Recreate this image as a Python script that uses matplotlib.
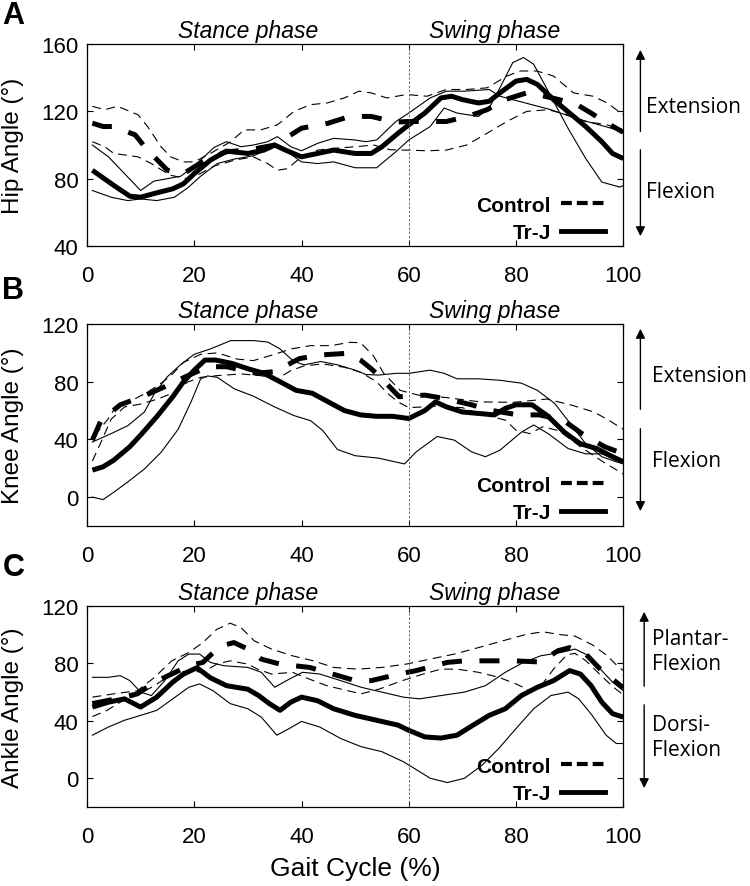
import numpy as np
import matplotlib
matplotlib.use('Agg')
import matplotlib.pyplot as plt
from matplotlib.lines import Line2D

plt.rcParams['font.family'] = 'Liberation Sans'

# ---------------- A: hip ----------------
hip_trj_x = [1, 5, 8, 10, 13, 16, 18, 20, 23, 26, 30, 33, 35, 37, 40, 43, 46, 50, 53, 55, 58, 60, 63, 66, 68, 70,
             73, 75, 77, 80, 82, 84, 87, 90, 93, 96, 98, 100]
hip_trj = [85, 76, 69.6, 69, 71.6, 74, 77, 83, 91, 96.4, 95, 97, 100, 97, 93, 95, 97, 95, 95, 99, 107, 112, 119, 128,
           129, 127, 125, 126, 131, 138, 139, 136, 127, 119, 111, 102, 95, 92]
hip_trj_up_x = [1, 4, 7, 10, 12.5, 15, 17.5, 20, 23.7, 26, 28.7, 31, 33.7, 35.5, 38, 40, 43, 46, 50, 52, 54, 57.6, 60,
                64, 67, 70.4, 75, 77, 86.5, 91, 100]
hip_trj_up = [100, 93, 83, 73, 78.6, 80, 81.5, 87.5, 98.6, 102, 99, 100, 102, 105, 99, 96.6, 101, 104, 103, 102, 103,
              114, 119, 128, 132, 132, 133, 129, 121, 116, 108]
hip_trj_lo_x = [1, 4.5, 7.6, 10, 13, 16.3, 18.8, 21.2, 24.3, 27.5, 31, 33.7, 35.5, 38, 40, 43, 46, 50, 54, 57.6, 60, 64,
                66.6, 69, 73, 75, 77, 79.4, 81.4, 83.3, 86, 89.7, 93, 96, 99.4, 100]
hip_trj_lo = [73, 69, 67, 68, 67, 69, 74.6, 81.5, 89, 91.7, 93.6, 97.3, 100, 94.5, 90, 89, 90, 86.5, 86.5, 96, 103, 111,
              122, 119, 117, 122, 134, 149, 152, 148, 132, 110, 92, 78, 75, 76]
hip_ctl_x = [1, 3, 5, 9, 11, 15, 18, 22, 26, 30, 35, 40, 45, 49, 53, 57.5, 60, 64, 67, 71, 74.6, 78, 82, 84, 88, 91.4,
             94, 97, 100]
hip_ctl = [113, 111, 111, 106, 98, 85, 83, 91, 96, 97, 100, 110, 113, 117, 117, 113.6, 114, 114, 114, 117, 121, 127,
           131, 130, 127, 124, 119, 113, 107.6]
hip_ctl_up_x = [1, 3.3, 5.7, 9.5, 11.3, 13.8, 15.6, 18, 20, 23, 26.8, 29.3, 32.4, 35.5, 38.6, 41.7, 44.8, 48, 50.7, 53,
                55.9, 59.6, 63.4, 67, 70.8, 74.6, 78.3, 80.8, 83.9, 87, 90.7, 94.4, 97, 100]
hip_ctl_up = [123, 121, 123, 118, 111, 99, 93, 90, 90, 95, 102, 109, 109, 112, 120, 124, 125, 128, 132, 131, 128, 130,
              129, 133, 133, 134, 141, 144, 144, 141, 131, 129, 125, 118]
hip_ctl_lo_x = [1, 3.3, 5, 9.5, 12, 14, 15.6, 18.8, 21, 23.7, 27.5, 31, 33.7, 35.5, 37.4, 40, 43, 46, 50, 53.5, 56.5,
                59.6, 63.4, 67, 70.8, 74.6, 78.3, 82, 86, 89.6, 93, 97, 100]
hip_ctl_lo = [102, 99, 95, 93, 89, 85, 82, 80, 82.8, 87.5, 91, 93, 89, 85, 86, 93, 97, 98, 99, 100, 97.2, 97, 96.6, 97,
              100, 107, 114, 120, 121, 118, 114, 112, 109]

# ---------------- B: knee ----------------
knee_trj_x = [1, 3, 5, 8, 10, 13, 16, 18, 20, 22, 24, 27, 30, 33, 36, 39, 42, 45, 48, 51, 54, 57, 60, 63, 65, 67, 70,
              73, 76, 78, 80, 83, 86, 89, 92, 95, 98, 100]
knee_trj = [18.7, 21, 25.6, 35, 43, 55.7, 69.6, 80, 88, 95, 95, 92.7, 89, 85.8, 80, 74, 72, 66, 60, 57, 56, 56, 54.5,
            60, 66, 62.6, 59, 58, 57, 61.5, 64, 64, 56, 45, 37, 33.7, 28, 24.5]
knee_trj_up_x = [1, 4.5, 7.6, 10.7, 12.6, 15, 17.5, 20, 23, 26.8, 31, 33.7, 36, 38.6, 40.5, 43.6, 46.7, 50, 52, 54.4,
                 57.6, 60, 64, 66.6, 69, 73, 77, 81, 84, 87.2, 89.7, 93, 96, 98.7, 100]
knee_trj_up = [38.2, 44, 49.5, 59, 72, 83.5, 92, 99, 102.7, 108.5, 108.5, 107.5, 102.7, 94, 91.7, 94, 91.7, 88, 85,
               84.6, 85.8, 85.8, 88, 85.8, 82, 82, 81, 79, 74, 65, 53, 37, 28, 24.5, 23]
knee_trj_lo_x = [1, 3, 5, 7.6, 10.7, 13.8, 17, 19.4, 21.2, 22.5, 24.3, 27.5, 31, 35, 38.6, 41.7, 44, 46.7, 50, 54.4,
                 59.2, 61.4, 65.3, 68.5, 71.7, 74.3, 77, 81, 83.3, 86, 89.7, 93, 96, 98.7, 100]
knee_trj_lo = [0, -1.7, 3.4, 10.5, 19.5, 31, 47, 66, 82, 84, 83, 75, 70, 62.5, 56.5, 53, 46, 33, 28.7, 27, 23, 31.4,
               42, 39.5, 31.4, 28, 32.5, 45, 50, 44, 33.7, 30, 30, 25.6, 24.5]
knee_ctl_x = [1, 2.6, 6.2, 10.3, 14.5, 18.4, 22.6, 26, 31.6, 35, 39.6, 43.4, 48.6, 51, 53, 55, 58.2, 63, 66.6, 71.7,
              75.6, 80.4, 84.3, 88.8, 92.3, 96.5, 100]
knee_ctl = [39.5, 53, 64, 69.6, 76.5, 83.5, 90.4, 90.4, 85.8, 87, 96, 98.5, 99.7, 95, 89, 82, 69.6, 70.7, 68.4, 64,
            60, 57, 57, 53.4, 44, 35, 30]
knee_ctl_up_x = [1.4, 3.9, 5.7, 8.2, 10.7, 13.2, 15.6, 18, 21.2, 24.3, 28, 31, 35, 38, 41.7, 45.5, 49, 51, 53.4, 55.3,
                 58.4, 62, 67, 73.3, 79.5, 85.8, 90.7, 94.5, 97, 100]
knee_ctl_up = [42.6, 54, 64.5, 66.8, 71.5, 77.3, 84, 93.4, 99, 100, 95.7, 94.6, 99, 102.7, 105, 105, 107.3, 107, 98,
               86, 74, 70.5, 69, 66, 65.7, 68, 63.4, 59, 54, 47]
knee_ctl_lo_x = [1, 2.6, 4.5, 7, 10, 13.2, 16.3, 18.8, 21.2, 24.3, 28.7, 32.4, 35.5, 38, 40.5, 44, 48, 51, 54, 56, 58,
                 60, 65, 70, 73, 78, 80, 82.6, 85, 88, 92, 96, 100]
knee_ctl_lo = [25, 38, 54, 62.5, 64.5, 68, 72.6, 79.8, 83, 84.2, 85.4, 84.2, 82, 87.7, 91, 92.3, 90, 86.6, 80, 72, 66,
               62, 63, 62, 58, 53.4, 46.4, 44, 48.8, 46, 35, 25, 16]

# ---------------- C: ankle ----------------
ank_trj_x = [1, 4, 7, 10, 13, 16, 18, 20.5, 23, 26, 30, 32, 34, 36, 38, 40, 43, 46, 50, 54, 58, 60, 63, 66, 69, 72, 75,
             78, 81, 84, 87, 90, 92, 94, 96, 98, 100]
ank_trj = [49.6, 53, 55.3, 49.6, 56.5, 67, 72.6, 77, 70, 64.5, 62, 57.6, 52, 47.3, 53, 56.5, 54, 48.4, 43.8, 40.4, 37,
           33.4, 28.8, 28, 30, 37, 43.8, 48.4, 57.6, 63.4, 68, 75, 72.6, 64.5, 53, 45, 42.6]
ank_trj_up_x = [1, 4, 6.2, 8, 10, 12, 14.5, 17, 19, 21, 23, 25.5, 30, 32.5, 35, 37.7, 40.2, 43.4, 47.3, 51.1, 55, 59,
                62, 66, 70.4, 74.3, 78, 81.4, 84.6, 88.4, 91, 93.6, 96, 98, 100]
ank_trj_up = [70.3, 70.3, 71.5, 68, 60, 57.6, 68, 81.8, 86.5, 86.5, 80.7, 78.4, 77.2, 73.8, 63.4, 69, 73.8, 72.6, 68,
              63.4, 60, 56.5, 55.3, 57.6, 60, 64.5, 73.8, 80.7, 85.3, 87.6, 90, 85.3, 75, 67, 61]
ank_trj_lo_x = [1, 4, 7, 10, 13, 16, 19, 21, 23.5, 26.7, 30, 32.5, 35.4, 37.7, 40, 43.4, 47.3, 51.1, 55, 59, 61.5, 64,
                67.2, 70.4, 73.7, 76.8, 80, 83.3, 86.5, 89.7, 91.7, 94.2, 96.8, 98.7, 100]
ank_trj_lo = [30, 35.7, 40.4, 43.8, 47.3, 55.3, 63.4, 65.7, 61, 52, 48.4, 42.6, 30, 34.6, 39.6, 35.7, 27.7, 22, 18.5,
              11.5, 5.8, 0, -3, 0, 9.2, 20.8, 34.6, 48.4, 57.6, 60, 55.3, 43.8, 30, 24.2, 24.2]
ank_ctl_x = [1, 5, 9.4, 12.6, 15.8, 19, 21.6, 24.8, 27.4, 30, 32.5, 36, 41.5, 44.7, 50, 53, 58.2, 61.4, 67.2, 70.4, 76,
             79.4, 84.6, 87.8, 90, 93, 95.7, 100]
ank_ctl = [52, 55, 58.8, 67, 72.6, 78.4, 80.7, 92, 94.5, 90, 83, 79.5, 77.2, 73.8, 68, 68, 72.6, 75, 80.7, 81.8, 81.8,
           81.8, 81, 88.8, 91, 86.6, 76, 63]
ank_ctl_up_x = [1, 5, 9.4, 12.6, 15.8, 19, 21.6, 24.2, 26.7, 28.7, 31.2, 34.4, 38.3, 42.2, 46, 50.5, 55, 59.5, 64,
                68.5, 73, 77.5, 82, 85, 88.4, 91, 94.2, 96.8, 98.7, 100]
ank_ctl_up = [56.5, 58.8, 61, 70.3, 81.8, 87.6, 94.5, 103.7, 108, 105, 95.7, 90, 85.3, 81.8, 77.2, 76, 77.2, 79.5, 83,
              86.5, 91, 95.7, 100.3, 102, 100, 99, 93, 86, 79, 75]
ank_ctl_lo_x = [1, 3.6, 6.2, 9.4, 12.6, 15.8, 19, 21.6, 24.2, 26.7, 30, 31.8, 34.4, 38.3, 41.5, 44.7, 48.6, 51.1, 54.4,
                58.8, 62.7, 66, 69, 73, 76.8, 80, 82.6, 85, 87, 89.5, 91, 93, 96, 98, 100]
ank_ctl_lo = [43, 47, 53, 58, 64.5, 72.6, 75, 73.8, 79.5, 81.8, 79.5, 76, 72.6, 73.8, 69, 64.5, 61, 58.8, 62, 68, 72.6,
              76, 76, 73.8, 70.3, 65.7, 61, 66, 76, 86, 87, 82, 71, 64, 58]

fig = plt.figure(figsize=(7.5, 8.87), dpi=100)

panels = [
    dict(pos=[0.116, 0.7215, 0.715, 0.2277], ylim=(40, 160), yticks=[40, 80, 120, 160], ylabel='Hip Angle (°)',
         letter='A', ly=0.982,
         trj=(hip_trj_x, hip_trj), trj_up=(hip_trj_up_x, hip_trj_up), trj_lo=(hip_trj_lo_x, hip_trj_lo),
         ctl=(hip_ctl_x, hip_ctl), ctl_up=(hip_ctl_up_x, hip_ctl_up), ctl_lo=(hip_ctl_lo_x, hip_ctl_lo),
         ax_x=1.032, up=(0.554, 0.985), down=(0.49, 0.035), tx=1.043, t_up=(0.693, 'Extension'),
         t_down=(0.272, 'Flexion')),
    dict(pos=[0.116, 0.4059, 0.715, 0.2277], ylim=(-20, 120), yticks=[0, 40, 80, 120], ylabel='Knee Angle (°)',
         letter='B', ly=0.672,
         trj=(knee_trj_x, knee_trj), trj_up=(knee_trj_up_x, knee_trj_up), trj_lo=(knee_trj_lo_x, knee_trj_lo),
         ctl=(knee_ctl_x, knee_ctl), ctl_up=(knee_ctl_up_x, knee_ctl_up), ctl_lo=(knee_ctl_lo_x, knee_ctl_lo),
         ax_x=1.032, up=(0.564, 0.99), down=(0.495, 0.06), tx=1.054, t_up=(0.743, 'Extension'),
         t_down=(0.322, 'Flexion')),
    dict(pos=[0.116, 0.0891, 0.715, 0.2266], ylim=(-20, 120), yticks=[0, 40, 80, 120], ylabel='Ankle Angle (°)',
         letter='C', ly=0.36,
         trj=(ank_trj_x, ank_trj), trj_up=(ank_trj_up_x, ank_trj_up), trj_lo=(ank_trj_lo_x, ank_trj_lo),
         ctl=(ank_ctl_x, ank_ctl), ctl_up=(ank_ctl_up_x, ank_ctl_up), ctl_lo=(ank_ctl_lo_x, ank_ctl_lo),
         ax_x=1.039, up=(0.587, 0.985), down=(0.522, 0.08), tx=1.054, t_up=(0.776, 'Plantar-\nFlexion'),
         t_down=(0.348, 'Dorsi-\nFlexion')),
]

side_font = ['Open Sans', 'DejaVu Sans']

for i, p in enumerate(panels):
    ax = fig.add_axes(p['pos'])

    # thin SD lines
    ax.plot(*p['ctl_up'], color='black', lw=0.8, dashes=(8, 5))
    ax.plot(*p['ctl_lo'], color='black', lw=0.8, dashes=(8, 5))
    ax.plot(*p['trj_up'], color='black', lw=0.8)
    ax.plot(*p['trj_lo'], color='black', lw=0.8)
    # means
    ax.plot(*p['trj'], color='black', lw=3.6, solid_capstyle='butt')
    ax.plot(*p['ctl'], color='black', lw=3.6, dashes=(4, 3.5))

    ax.axvline(60, color='#555555', lw=0.6, dashes=(3, 2))

    ax.set_xlim(0, 100)
    ax.set_ylim(*p['ylim'])
    ax.set_xticks([0, 20, 40, 60, 80, 100])
    ax.set_yticks(p['yticks'])
    ax.tick_params(direction='in', top=True, right=True, length=4, width=0.8, labelsize=16)
    ax.tick_params(axis='x', pad=14)
    ax.tick_params(axis='y', pad=6)
    for s in ax.spines.values():
        s.set_linewidth(0.9)

    ax.set_ylabel(p['ylabel'], fontsize=17.5)
    ax.yaxis.set_label_coords(-0.118, 0.5)

    ax.text(30, 1.065, 'Stance phase', transform=ax.get_xaxis_transform(), ha='center', va='center',
            fontsize=16.5, style='italic')
    ax.text(76, 1.065, 'Swing phase', transform=ax.get_xaxis_transform(), ha='center', va='center',
            fontsize=16.5, style='italic')

    handles = [Line2D([], [], color='black', lw=3, dashes=(2.6, 1.2)),
               Line2D([], [], color='black', lw=3.5)]
    ax.legend(handles, ['Control', 'Tr-J'], markerfirst=False, frameon=False, loc='lower right',
              bbox_to_anchor=(0.966, 0.02), borderaxespad=0, borderpad=0, handlelength=2.1,
              handletextpad=0.5, labelspacing=0.4, prop={'weight': 'bold', 'size': 15})

    # direction arrows on the right
    ax.annotate('', xy=(p['ax_x'], p['up'][1]), xytext=(p['ax_x'], p['up'][0]), xycoords='axes fraction',
                arrowprops=dict(arrowstyle='-|>', color='black', lw=1, mutation_scale=14), annotation_clip=False)
    ax.annotate('', xy=(p['ax_x'], p['down'][1]), xytext=(p['ax_x'], p['down'][0]), xycoords='axes fraction',
                arrowprops=dict(arrowstyle='-|>', color='black', lw=1, mutation_scale=14), annotation_clip=False)
    ax.text(p['tx'], p['t_up'][0], p['t_up'][1], transform=ax.transAxes, ha='left', va='center', fontsize=15,
            family=side_font, linespacing=1.3)
    ax.text(p['tx'], p['t_down'][0], p['t_down'][1], transform=ax.transAxes, ha='left', va='center', fontsize=15,
            family=side_font, linespacing=1.3)

    fig.text(0.003, p['ly'], p['letter'], fontsize=22, fontweight='bold', ha='left', va='center')

    if i == 2:
        ax.set_xlabel('Gait Cycle (%)', fontsize=19)
        ax.xaxis.set_label_coords(0.5, -0.245)

fig.savefig('out.png', dpi=100)
